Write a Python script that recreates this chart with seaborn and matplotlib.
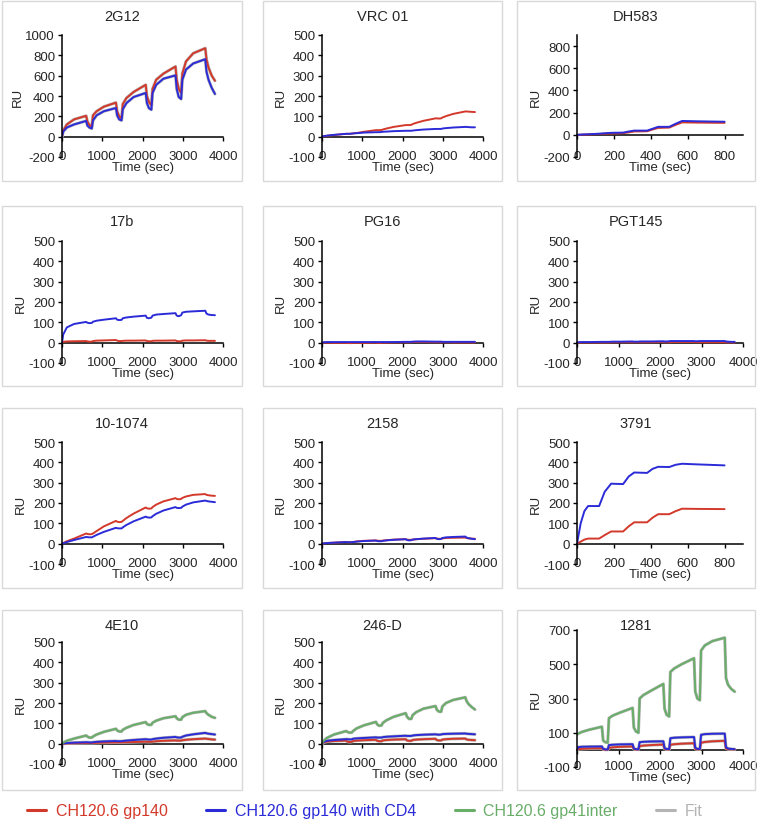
import numpy as np
import pandas as pd
import matplotlib
matplotlib.use("Agg")
import matplotlib.pyplot as plt
from matplotlib.lines import Line2D
from matplotlib.patches import Rectangle
import seaborn as sns

# ---- time grids (sec) ----
time_long = [0, 30, 120, 300, 600, 630, 680,
             740, 770, 860, 1040, 1340, 1370, 1420,
             1480, 1510, 1600, 1780, 2080, 2110, 2160,
             2220, 2250, 2340, 2520, 2820, 2850, 2900,
             2960, 2990, 3080, 3260, 3560, 3590, 3640,
             3720, 3800]
time_short = [0, 20, 40, 60, 120, 150, 185, 250, 280, 310, 380, 410,
              440, 500, 535, 570, 650, 800]

# ---- responses (RU) ----
g12_red = [0, 60, 120, 170, 205, 150, 115,
           100, 210, 250, 295, 335, 250, 200,
           180, 320, 380, 440, 510, 400, 340,
           310, 470, 560, 620, 690, 560, 470,
           430, 620, 740, 820, 870, 760, 680,
           600, 550]
g12_blue = [0, 50, 90, 120, 155, 110, 90,
            80, 160, 210, 250, 282, 210, 170,
            160, 270, 330, 390, 430, 330, 280,
            265, 430, 510, 570, 603, 470, 390,
            370, 560, 660, 720, 762, 640, 560,
            480, 420]

vrc_red = [0, 1, 4, 8, 14, 14, 14,
           15, 16, 18, 24, 32, 32, 32,
           33, 35, 40, 48, 57, 57, 57,
           58, 62, 68, 78, 90, 90, 89,
           90, 94, 101, 112, 124, 124, 123,
           122, 121]
vrc_blue = [0, 2, 5, 9, 14, 14, 14,
            15, 16, 17, 20, 22, 22, 22,
            23, 24, 25, 27, 29, 29, 29,
            29, 30, 32, 35, 38, 38, 38,
            38, 40, 42, 45, 48, 48, 47,
            46, 46]

dh_red = [0, 1, 2, 3, 8, 10, 12, 15, 22, 30, 32, 48, 62, 65, 90, 112, 110, 108]
dh_blue = [0, 2, 4, 5, 10, 14, 18, 20, 30, 38, 38, 55, 72, 72, 100, 125, 122, 118]

b17_red = [0, 4, 6, 7, 8, 6, 5,
           5, 8, 10, 11, 13, 10, 8,
           8, 9, 10, 10, 11, 8, 7,
           7, 9, 10, 10, 11, 8, 7,
           7, 10, 11, 11, 12, 10, 9,
           9, 9]
b17_blue = [0, 40, 75, 92, 102, 98, 96,
            97, 103, 108, 113, 120, 113, 111,
            112, 120, 124, 128, 133, 122, 120,
            123, 133, 138, 141, 145, 133, 130,
            135, 148, 152, 154, 157, 143, 138,
            136, 135]

pg16_red = [0, 0, 0, -1, -1, -2, -2,
            -2, -1, -1, -1, 0, -1, -1,
            -1, 0, 0, 1, 2, 2, 2,
            2, 3, 3, 3, 2, 2, 2,
            2, 2, 2, 1, 1, 1, 1,
            1, 1]
pg16_blue = [0, 2, 3, 3, 3, 3, 3,
             3, 3, 3, 3, 3, 3, 3,
             3, 3, 3, 3, 4, 4, 4,
             4, 5, 6, 6, 5, 5, 5,
             5, 4, 4, 4, 4, 4, 4,
             4, 4]

pgt_red = [0, 0, 1, 1, 1, 1, 1,
           1, 1, 2, 2, 2, 2, 2,
           2, 2, 2, 2, 3, 2, 2,
           2, 2, 3, 3, 3, 2, 2,
           2, 2, 2, 2, 2, 1, 1,
           1, 1]
pgt_blue = [0, 2, 3, 3, 4, 4, 4,
            4, 4, 5, 5, 6, 5, 5,
            5, 6, 6, 6, 7, 6, 6,
            7, 8, 8, 8, 8, 7, 7,
            8, 8, 8, 8, 8, 6, 5,
            4, 4]

m1074_red = [0, 3, 12, 25, 50, 48, 46,
             47, 50, 62, 85, 112, 108, 106,
             107, 112, 126, 148, 178, 174, 172,
             173, 180, 192, 208, 224, 220, 218,
             220, 225, 232, 240, 244, 240, 238,
             236, 235]
m1074_blue = [0, 2, 8, 18, 33, 32, 31,
              31, 34, 43, 58, 78, 76, 75,
              75, 80, 92, 110, 133, 130, 128,
              129, 135, 147, 163, 180, 176, 175,
              176, 182, 192, 203, 212, 210, 208,
              206, 204]

m2158_red = [0, 1, 3, 5, 8, 7, 7,
             7, 8, 11, 14, 16, 15, 14,
             14, 15, 17, 20, 22, 20, 19,
             19, 20, 22, 24, 27, 25, 24,
             24, 26, 28, 29, 30, 28, 26,
             25, 24]
m2158_blue = [0, 1, 3, 5, 8, 7, 7,
              7, 8, 10, 13, 15, 13, 12,
              12, 14, 16, 19, 22, 18, 16,
              17, 20, 22, 25, 28, 24, 22,
              23, 28, 31, 33, 35, 30, 27,
              24, 22]

m3791_red = [0, 10, 20, 25, 25, 42, 60, 60, 85, 105, 105, 128, 145, 145, 160, 172, 171, 170]
m3791_blue = [0, 100, 160, 185, 185, 255, 295, 293, 330, 350, 348, 368, 378, 377, 388, 393, 390, 385]

e10_red = [0, 0, 1, 2, 3, 3, 3,
           3, 3, 4, 5, 6, 6, 6,
           6, 6, 7, 8, 10, 9, 9,
           9, 10, 12, 14, 16, 15, 15,
           15, 17, 19, 22, 25, 24, 23,
           21, 20]
e10_blue = [0, 1, 3, 5, 7, 7, 6,
            6, 7, 9, 11, 13, 12, 12,
            12, 13, 15, 18, 22, 21, 20,
            20, 22, 25, 29, 33, 31, 30,
            30, 34, 40, 46, 53, 51, 49,
            47, 45]
e10_green = [0, 5, 14, 25, 40, 35, 30,
             30, 35, 45, 58, 73, 65, 60,
             60, 68, 78, 92, 106, 97, 92,
             93, 103, 113, 125, 135, 125, 118,
             118, 130, 142, 152, 160, 150, 142,
             132, 127]

d246_red = [0, 6, 10, 13, 15, 10, 8,
            9, 13, 15, 17, 19, 14, 12,
            12, 16, 18, 20, 22, 16, 14,
            14, 18, 20, 22, 24, 18, 16,
            16, 20, 22, 24, 25, 21, 19,
            18, 17]
d246_blue = [0, 8, 14, 18, 22, 22, 21,
             21, 24, 26, 28, 31, 30, 30,
             30, 32, 34, 36, 39, 38, 38,
             38, 40, 42, 44, 46, 45, 44,
             45, 47, 48, 49, 50, 49, 48,
             47, 46]
d246_green = [0, 12, 28, 45, 62, 58, 54,
              55, 62, 75, 90, 107, 95, 88,
              90, 102, 115, 132, 150, 133, 122,
              122, 140, 155, 172, 185, 168, 158,
              157, 183, 200, 215, 228, 210, 195,
              180, 168]

m1281_red = [0, 4, 6, 8, 10, 3, 1,
             1, 12, 15, 18, 20, 4, 2,
             2, 22, 25, 28, 31, 6, 3,
             2, 30, 33, 36, 39, 6, 3,
             3, 42, 46, 50, 53, 8, 4,
             3, 2]
m1281_blue = [0, 16, 18, 19, 20, 6, 3,
              2, 28, 30, 32, 33, 8, 4,
              3, 45, 47, 49, 50, 10, 5,
              4, 68, 71, 73, 75, 12, 6,
              5, 88, 92, 94, 95, 15, 8,
              5, 4]
m1281_green = [90, 95, 105, 118, 135, 55, 45,
               42, 185, 200, 218, 245, 130, 108,
               100, 300, 320, 345, 385, 240, 205,
               195, 455, 475, 500, 535, 340, 300,
               290, 580, 610, 635, 655, 420, 380,
               355, 340]

# name, time, {series: values}, ylim, yticks, xmax, draw fit
panels = [
    ("2G12", time_long, {"gp140": g12_red, "cd4": g12_blue}, (-200, 1000), list(range(-200, 1001, 200)), 4000, True),
    ("VRC 01", time_long, {"gp140": vrc_red, "cd4": vrc_blue}, (-100, 500), list(range(-100, 501, 100)), 4000, False),
    ("DH583", time_short, {"gp140": dh_red, "cd4": dh_blue}, (-200, 900), list(range(-200, 801, 200)), 900, False),
    ("17b", time_long, {"gp140": b17_red, "cd4": b17_blue}, (-100, 500), list(range(-100, 501, 100)), 4000, False),
    ("PG16", time_long, {"gp140": pg16_red, "cd4": pg16_blue}, (-100, 500), list(range(-100, 501, 100)), 4000, False),
    ("PGT145", time_long, {"gp140": pgt_red, "cd4": pgt_blue}, (-100, 500), list(range(-100, 501, 100)), 4000, False),
    ("10-1074", time_long, {"gp140": m1074_red, "cd4": m1074_blue}, (-100, 500), list(range(-100, 501, 100)), 4000, False),
    ("2158", time_long, {"gp140": m2158_red, "cd4": m2158_blue}, (-100, 500), list(range(-100, 501, 100)), 4000, False),
    ("3791", time_short, {"gp140": m3791_red, "cd4": m3791_blue}, (-100, 500), list(range(-100, 501, 100)), 900, False),
    ("4E10", time_long, {"gp140": e10_red, "cd4": e10_blue, "gp41": e10_green}, (-100, 500), list(range(-100, 501, 100)), 4000, True),
    ("246-D", time_long, {"gp140": d246_red, "cd4": d246_blue, "gp41": d246_green}, (-100, 500), list(range(-100, 501, 100)), 4000, True),
    ("1281", time_long, {"gp140": m1281_red, "cd4": m1281_blue, "gp41": m1281_green}, (-100, 700), [-100, 100, 300, 500, 700], 4000, True),
]

COLORS = {"gp140": "#d3392b", "cd4": "#2b2bd8", "gp41": "#68ad68"}
FIT = "#b4b4b4"
LABELS = {"gp140": "CH120.6 gp140", "cd4": "CH120.6 gp140 with CD4", "gp41": "CH120.6 gp41inter"}

sns.set_theme(style="white")
plt.rcParams["font.family"] = ["Liberation Sans", "DejaVu Sans"]
plt.rcParams["axes.unicode_minus"] = False

W, H = 762, 828
fig = plt.figure(figsize=(W / 100, H / 100), dpi=100)


def px_rect(left, top, width, height):
    return [left / W, 1 - (top + height) / H, width / W, height / H]


box_left = [2, 263, 517]
box_width = [240, 239, 238]
box_top = [2, 207, 409, 611]
ax_left = [62, 322, 577]
ax_width = [161, 161, 166]
ax_top = [36, 242, 443, 643]


def draw_panel(ax, t, series, ylim, yticks, xmax, fit):
    frames = [pd.DataFrame({"time": t, "RU": v, "series": k}) for k, v in series.items()]
    df = pd.concat(frames, ignore_index=True)
    order = [k for k in COLORS if k in series]
    if fit:
        sns.lineplot(data=df, x="time", y="RU", units="series", estimator=None,
                     color=FIT, lw=2.2, ax=ax, legend=False)
    sns.lineplot(data=df, x="time", y="RU", hue="series", hue_order=order,
                 palette=COLORS, lw=1.4, ax=ax, legend=False)

    xticks = list(range(0, 4001, 1000)) if xmax == 4000 else list(range(0, 801, 200))
    ax.set_xlim(0, xmax)
    ax.set_ylim(*ylim)
    ax.set_yticks(yticks)
    ax.set_xticks(xticks)
    ax.spines[["top", "right", "bottom"]].set_visible(False)
    ax.spines["left"].set_color("black")
    ax.spines["left"].set_linewidth(1.1)
    ax.tick_params(axis="y", length=3, width=1, pad=2, labelsize=9.5, color="black", left=True)
    ax.tick_params(axis="x", length=0, pad=-5, labelsize=9.5)
    ax.set_ylabel("RU", fontsize=9.5, labelpad=1)
    ax.set_xlabel("Time (sec)", fontsize=9.5, labelpad=-1)

    # horizontal axis crosses at RU = 0
    sec = ax.secondary_xaxis((0 - ylim[0]) / (ylim[1] - ylim[0]))
    sec.set_xticks(xticks)
    sec.tick_params(length=3, width=1, labelbottom=False, color="black", bottom=True)
    sec.spines["bottom"].set_color("black")
    sec.spines["bottom"].set_linewidth(1.1)


for i, (name, t, series, ylim, yticks, xmax, fit) in enumerate(panels):
    r, c = divmod(i, 3)
    fig.add_artist(Rectangle(((box_left[c]) / W, 1 - (box_top[r] + 180) / H),
                             box_width[c] / W, 180 / H, transform=fig.transFigure,
                             fill=False, ec="#d9d9d9", lw=1))
    fig.text((box_left[c] + box_width[c] / 2) / W, 1 - (box_top[r] + 15) / H, name,
             ha="center", va="center", fontsize=10.5)
    if name == "1281":
        rect = px_rect(ax_left[c], 631, ax_width[c], 137)
    else:
        rect = px_rect(ax_left[c], ax_top[r], ax_width[c], 122)
    ax = fig.add_axes(rect)
    ax.patch.set_alpha(0)
    draw_panel(ax, t, series, ylim, yticks, xmax, fit)

handles = [Line2D([], [], color=COLORS[k], lw=2.2) for k in COLORS]
handles.append(Line2D([], [], color=FIT, lw=2.2))
labels = [LABELS[k] for k in COLORS] + ["Fit"]
fig.legend(handles, labels, loc="center", bbox_to_anchor=(365 / W, 1 - 812 / H),
           ncol=4, frameon=False, fontsize=11.5, handlelength=1.2, handletextpad=0.6,
           columnspacing=2.4, labelcolor="linecolor")

fig.savefig("out.png", dpi=100)
